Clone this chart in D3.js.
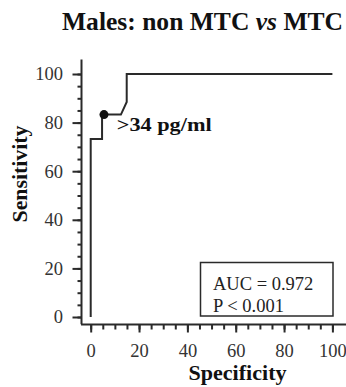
<!DOCTYPE html>
<html>
<head>
<meta charset="utf-8">
<script src="https://cdn.jsdelivr.net/npm/d3@7"></script>
<style>
  body { margin: 0; background: #fff; }
  svg { display: block; }
  text { font-family: "Liberation Serif", "Times New Roman", serif; }
</style>
</head>
<body>
<svg id="chart" width="346" height="387"></svg>
<script>
// ROC curve points (specificity, sensitivity)
const specificity = [0, 0, 4.7, 4.7, 12.5, 14.9, 14.9, 100];
const sensitivity = [0, 73.3, 73.3, 83.3, 83.3, 88.5, 100, 100];
const cutoff = { spec: 5.5, sens: 83.3, label: ">34 pg/ml" };
const xTicks = [0, 20, 40, 60, 80, 100];
const yTicks = [0, 20, 40, 60, 80, 100];
const minorTicks = d3.range(0, 101, 5);
const statsLines = ["AUC = 0.972", "P < 0.001"];

const svg = d3.select("#chart");
const ink = "#2a2a2a";

const x = d3.scaleLinear().domain([0, 100]).range([90.7, 332.4]);
const y = d3.scaleLinear().domain([0, 100]).range([317, 74]);

// title
const title = svg.append("text")
  .attr("x", 62).attr("y", 30)
  .attr("font-size", 25).attr("font-weight", "bold").attr("fill", "#111")
  .attr("textLength", 281).attr("lengthAdjust", "spacingAndGlyphs");
title.append("tspan").text("Males: non MTC ");
title.append("tspan").attr("font-style", "italic").text("vs");
title.append("tspan").text(" MTC");

// axis lines (extend a bit past data range like the original)
svg.append("line")
  .attr("x1", 81.5).attr("x2", 81.5)
  .attr("y1", y(106)).attr("y2", y(-3))
  .attr("stroke", ink).attr("stroke-width", 2);
svg.append("line")
  .attr("x1", x(-4)).attr("x2", x(106))
  .attr("y1", 324.5).attr("y2", 324.5)
  .attr("stroke", ink).attr("stroke-width", 2);

// y axis
const gy = svg.append("g").attr("transform", "translate(81.5,0)");
gy.call(d3.axisLeft(y).tickValues(minorTicks).tickSize(4).tickFormat(""))
  .call(g => g.select(".domain").remove());
gy.append("g").call(d3.axisLeft(y).tickValues(yTicks).tickSize(9).tickPadding(9.5))
  .call(g => g.select(".domain").remove());
gy.selectAll("line").attr("stroke", ink).attr("stroke-width", 2);
gy.selectAll("text").attr("font-size", 18.5).attr("fill", "#333")
  .attr("font-family", "Liberation Serif, serif");

// x axis
const gx = svg.append("g").attr("transform", "translate(0,324.5)");
gx.call(d3.axisBottom(x).tickValues(minorTicks).tickSize(5).tickFormat(""))
  .call(g => g.select(".domain").remove());
gx.append("g").call(d3.axisBottom(x).tickValues(xTicks).tickSize(8).tickPadding(11))
  .call(g => g.select(".domain").remove());
gx.selectAll("line").attr("stroke", ink).attr("stroke-width", 2);
gx.selectAll("text").attr("font-size", 18.5).attr("fill", "#333")
  .attr("font-family", "Liberation Serif, serif");

// axis labels
svg.append("text")
  .attr("transform", "translate(27,174) rotate(-90)")
  .attr("text-anchor", "middle")
  .attr("font-size", 21).attr("font-weight", "bold").attr("fill", "#111")
  .attr("textLength", 97).attr("lengthAdjust", "spacingAndGlyphs")
  .text("Sensitivity");
svg.append("text")
  .attr("x", 237.5).attr("y", 380)
  .attr("text-anchor", "middle")
  .attr("font-size", 21).attr("font-weight", "bold").attr("fill", "#111")
  .attr("textLength", 98).attr("lengthAdjust", "spacingAndGlyphs")
  .text("Specificity");

// ROC curve
const pts = specificity.map((s, i) => [s, sensitivity[i]]);
svg.append("path")
  .datum(pts)
  .attr("fill", "none")
  .attr("stroke", ink)
  .attr("stroke-width", 2)
  .attr("d", d3.line().x(d => x(d[0])).y(d => y(d[1])));

// cutoff marker
svg.append("circle")
  .attr("cx", x(cutoff.spec)).attr("cy", y(cutoff.sens))
  .attr("r", 4.5).attr("fill", "#111");
svg.append("text")
  .attr("x", x(cutoff.spec) + 12.7).attr("y", y(cutoff.sens) + 16)
  .attr("font-size", 19).attr("font-weight", "bold").attr("fill", "#111")
  .attr("textLength", 95).attr("lengthAdjust", "spacingAndGlyphs")
  .text(cutoff.label);

// stats box
svg.append("rect")
  .attr("x", 200.5).attr("y", 262.5)
  .attr("width", 132.5).attr("height", 53.5)
  .attr("fill", "#fff").attr("stroke", ink).attr("stroke-width", 1.5);
svg.selectAll(".stat")
  .data(statsLines)
  .enter().append("text")
  .attr("class", "stat")
  .attr("x", 213)
  .attr("y", (d, i) => 290 + i * 22)
  .attr("font-size", 18.5).attr("fill", "#222")
  .text(d => d);
</script>
</body>
</html>
